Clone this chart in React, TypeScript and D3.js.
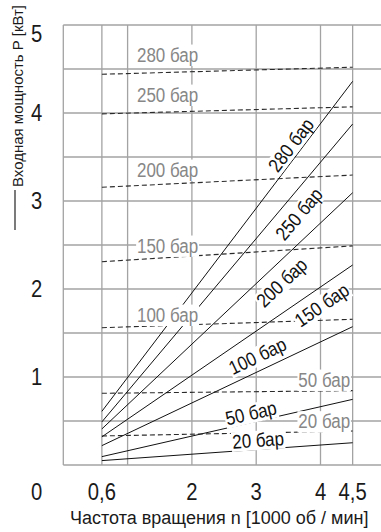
import React, { useEffect, useRef } from 'react';
import * as d3 from 'd3';

// pressure curves
const pressureLabels = ['280 бар', '250 бар', '200 бар', '150 бар', '100 бар', '50 бар', '20 бар'];
const speedRange = [0.6, 4.5];
// input power (solid) at n = 0.6 and n = 4.5
const powerStart = [0.61, 0.49, 0.41, 0.32, 0.22, 0.095, 0.05];
const powerEnd = [4.36, 3.875, 3.094, 2.273, 1.572, 0.746, 0.253];
// dashed curves at n = 0.6 and n = 4.5
const dashStart = [4.44, 3.99, 3.156, 2.31, 1.56, 0.815, 0.33];
const dashEnd = [4.52, 4.07, 3.295, 2.49, 1.656, 0.845, 0.386];

// label anchors (data units)
const solidLabelN = [3.54, 3.665, 3.397, 4.02, 3.02, 2.92, 3.03];
const solidLabelP = [3.636, 2.852, 2.074, 1.818, 1.239, 0.59, 0.284];
const dashLabelN = [1.146, 1.146, 1.146, 1.146, 1.146, 3.655, 3.655];
const dashLabelP = [4.583, 4.128, 3.276, 2.413, 1.628, 0.89, 0.417];

const xGrid = [0, 0.6, 1, 2, 3, 4, 4.5];
const xTickLabels = ['0,6', '2', '3', '4', '4,5'];
const xTickValues = [0.6, 2, 3, 4, 4.5];
const yTicks = [1, 2, 3, 4, 5];

const font = "'Liberation Sans', Arial, sans-serif";
const squeeze = 0.87; // the original uses a condensed face

const App = () => {
  const ref = useRef<SVGSVGElement>(null);

  useEffect(() => {
    const svg = d3.select(ref.current);
    svg.selectAll('*').remove();

    const x = d3.scaleLinear().domain([0, 5]).range([63.3, 384.8]);
    const y = d3.scaleLinear().domain([0, 5]).range([465, 25]);

    const grid = svg.append('g').attr('stroke', '#a3a3a3').attr('stroke-width', 1.3);
    d3.range(0, 5.01, 0.5).forEach((v) => {
      grid.append('line').attr('x1', x(0)).attr('x2', x(5)).attr('y1', y(v)).attr('y2', y(v));
    });
    xGrid.forEach((v) => {
      grid.append('line').attr('x1', x(v)).attr('x2', x(v)).attr('y1', y(0)).attr('y2', y(5));
    });

    const line = d3.line<[number, number]>().x((d) => x(d[0])).y((d) => y(d[1]));

    pressureLabels.forEach((_, i) => {
      svg.append('path')
        .attr('d', line([[speedRange[0], dashStart[i]], [speedRange[1], dashEnd[i]]]))
        .attr('fill', 'none')
        .attr('stroke', '#2a2a2a')
        .attr('stroke-width', 1.1)
        .attr('stroke-dasharray', '5,3');
    });

    pressureLabels.forEach((_, i) => {
      svg.append('path')
        .attr('d', line([[speedRange[0], powerStart[i]], [speedRange[1], powerEnd[i]]]))
        .attr('fill', 'none')
        .attr('stroke', '#111')
        .attr('stroke-width', 1);
    });

    // grey labels of the dashed curves
    pressureLabels.forEach((lab, i) => {
      const g = svg.append('g')
        .attr('transform', `translate(${x(dashLabelN[i])},${y(dashLabelP[i])}) scale(${squeeze},1)`);
      const t = g.append('text')
        .attr('font-family', font)
        .attr('font-size', 19.5)
        .attr('fill', '#878787')
        .text(lab);
      const b = (t.node() as SVGTextElement).getBBox();
      g.insert('rect', 'text')
        .attr('x', b.x - 1).attr('y', b.y + 1)
        .attr('width', b.width + 2).attr('height', b.height - 1)
        .attr('fill', '#fff');
    });

    // black labels of the solid curves, rotated along the line
    pressureLabels.forEach((lab, i) => {
      const dx = x(speedRange[1]) - x(speedRange[0]);
      const dy = y(powerEnd[i]) - y(powerStart[i]);
      const ang = (Math.atan2(dy, dx) * 180) / Math.PI;
      const g = svg.append('g')
        .attr('transform', `translate(${x(solidLabelN[i])},${y(solidLabelP[i])}) rotate(${ang}) scale(${squeeze},1)`);
      const t = g.append('text')
        .attr('text-anchor', 'middle')
        .attr('dy', '0.35em')
        .attr('font-family', font)
        .attr('font-size', 19.5)
        .attr('fill', '#111')
        .text(lab);
      const b = (t.node() as SVGTextElement).getBBox();
      g.insert('rect', 'text')
        .attr('x', b.x - 1).attr('y', b.y + 2)
        .attr('width', b.width + 2).attr('height', b.height - 3)
        .attr('fill', '#fff');
    });

    // tick labels
    const tick = (tx: number, ty: number, s: string) => {
      svg.append('text')
        .attr('transform', `translate(${tx},${ty}) scale(0.88,1)`)
        .attr('text-anchor', 'middle')
        .attr('font-family', font)
        .attr('font-size', 23)
        .attr('fill', '#1a1a1a')
        .text(s);
    };
    yTicks.forEach((v) => tick(36.7, v === 5 ? y(v) + 16.7 : y(v) + 8.3, String(v)));
    tick(36.7, 500, '0');
    xTickValues.forEach((v, i) => tick(x(v), 500, xTickLabels[i]));

    // axis titles
    svg.append('text')
      .attr('x', 70).attr('y', 524)
      .attr('font-family', font)
      .attr('font-size', 18)
      .attr('fill', '#1a1a1a')
      .text('Частота вращения n [1000 об / мин]');

    svg.append('line')
      .attr('x1', 15).attr('x2', 15).attr('y1', 190).attr('y2', 230)
      .attr('stroke', '#222').attr('stroke-width', 1.2);
    svg.append('text')
      .attr('transform', 'translate(22.5,187) rotate(-90)')
      .attr('font-family', font)
      .attr('font-size', 15)
      .attr('fill', '#1a1a1a')
      .text('Входная мощность P [кВт]');
  }, []);

  return (
    <div style={{ position: 'absolute', left: 0, top: 0 }}>
      <svg ref={ref} width={381} height={532} style={{ display: 'block', background: '#fff' }} />
    </div>
  );
};

export default App;
